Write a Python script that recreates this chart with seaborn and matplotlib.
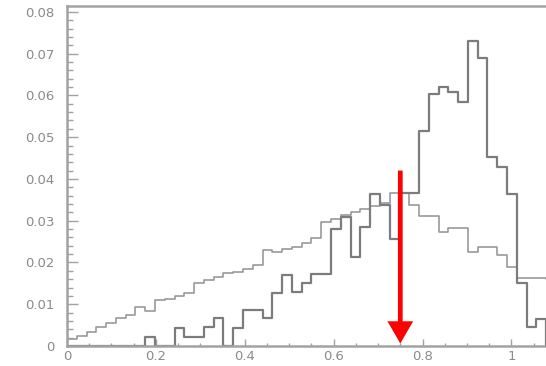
import numpy as np
import pandas as pd
import matplotlib
matplotlib.use("Agg")
import matplotlib.pyplot as plt
import seaborn as sns
from matplotlib.ticker import MultipleLocator, FuncFormatter
from matplotlib.patches import FancyArrowPatch

# 50 bins on [0, 1.1]
n_bins = 50
x_range = (0.0, 1.1)

# Normalised contents of the broad (rising) distribution
broad_vals = [
    0.0016, 0.0024, 0.0034, 0.0045, 0.0056, 0.0066, 0.0074, 0.0093, 0.0084, 0.0110,
    0.0112, 0.0120, 0.0128, 0.0150, 0.0158, 0.0166, 0.0174, 0.0176, 0.0184, 0.0194,
    0.0230, 0.0226, 0.0232, 0.0238, 0.0246, 0.0258, 0.0298, 0.0303, 0.0314, 0.0322,
    0.0327, 0.0335, 0.0343, 0.0366, 0.0366, 0.0338, 0.0312, 0.0312, 0.0274, 0.0282,
    0.0282, 0.0226, 0.0238, 0.0238, 0.0218, 0.0188, 0.0162, 0.0162, 0.0162, 0.0160,
]

# Normalised contents of the peaked distribution
peak_vals = [
    0.0, 0.0, 0.0, 0.0, 0.0, 0.0, 0.0, 0.0, 0.0022, 0.0,
    0.0, 0.0044, 0.0022, 0.0022, 0.0045, 0.0066, 0.0, 0.0044, 0.0085, 0.0085,
    0.0066, 0.0126, 0.0170, 0.0130, 0.0150, 0.0172, 0.0172, 0.0280, 0.0308, 0.0213,
    0.0284, 0.0364, 0.0338, 0.0257, 0.0366, 0.0366, 0.0515, 0.0604, 0.0621, 0.0607,
    0.0583, 0.0731, 0.0689, 0.0452, 0.0429, 0.0364, 0.0150, 0.0045, 0.0065, 0.0,
]

# Cut position marked by the arrow
cut_x = 0.75
arrow_top = 0.042
arrow_tip = 0.0006

x_ticks = [0, 0.2, 0.4, 0.6, 0.8, 1.0]
y_ticks = [0, 0.01, 0.02, 0.03, 0.04, 0.05, 0.06, 0.07, 0.08]

bin_w = (x_range[1] - x_range[0]) / n_bins
centers = x_range[0] + bin_w * (np.arange(n_bins) + 0.5)
broad_df = pd.DataFrame({"x": centers, "w": broad_vals})
peak_df = pd.DataFrame({"x": centers, "w": peak_vals})

sns.set_style("white")
plt.rcParams["font.family"] = ["DejaVu Sans"]

fig = plt.figure(figsize=(5.46, 3.66), dpi=100)
W, H = 546, 366
x0_px, y0_px = 67, 346
ax_w_px = 444.4 * 1.1
ax_h_px = 340
ax = fig.add_axes([x0_px / W, (H - y0_px) / H, ax_w_px / W, ax_h_px / H])

frame_col = "#a2a2a2"
sns.histplot(data=broad_df, x="x", weights="w", bins=n_bins, binrange=x_range,
             element="step", fill=False, color="#9a9a9a", linewidth=1.2, ax=ax)
sns.histplot(data=peak_df, x="x", weights="w", bins=n_bins, binrange=x_range,
             element="step", fill=False, color="#7c7c7c", linewidth=1.6, ax=ax)

# Red arrow marking the cut, filled shape with a sharp head
arrow = FancyArrowPatch((cut_x, arrow_top), (cut_x, arrow_tip),
                        arrowstyle="simple,head_length=1.6,head_width=1.85,tail_width=0.34",
                        mutation_scale=10, facecolor="#ff0000", edgecolor="none",
                        lw=0, shrinkA=0, shrinkB=0, zorder=5)
ax.add_patch(arrow)

ax.set_xlim(*x_range)
ax.set_ylim(0, 0.0814)
ax.set_xlabel("")
ax.set_ylabel("")

ax.set_xticks(x_ticks)
ax.set_yticks(y_ticks)
ax.xaxis.set_minor_locator(MultipleLocator(0.05))
ax.yaxis.set_minor_locator(MultipleLocator(0.002))
ax.xaxis.set_major_formatter(FuncFormatter(lambda v, p: "%g" % round(v, 3)))
ax.yaxis.set_major_formatter(FuncFormatter(lambda v, p: "0" if abs(v) < 1e-9 else "%.2f" % v))

lab_col = "#8a8a8a"
ax.tick_params(axis="y", which="major", direction="in", length=8, width=1.0,
               color=frame_col, labelcolor=lab_col, labelsize=9.5, pad=9,
               left=True, right=False)
ax.tick_params(axis="y", which="minor", direction="in", length=4.5, width=1.0,
               color=frame_col, left=True, right=False)
ax.tick_params(axis="x", which="major", direction="in", length=5, width=1.0,
               color=frame_col, labelcolor=lab_col, labelsize=9.5, pad=3,
               bottom=True, top=False)
ax.tick_params(axis="x", which="minor", direction="in", length=2.5, width=1.0,
               color=frame_col, bottom=True, top=False)

for side in ["left", "bottom", "top", "right"]:
    ax.spines[side].set_visible(True)
    ax.spines[side].set_color(frame_col)
    ax.spines[side].set_linewidth(1.8)

fig.savefig("out.png", dpi=100)
